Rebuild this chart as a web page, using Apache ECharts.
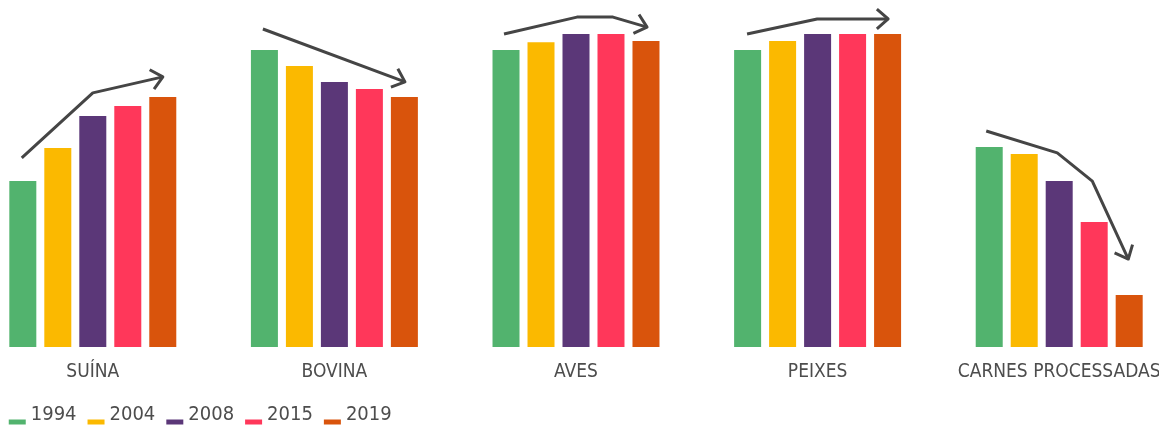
<!DOCTYPE html>
<html>
<head>
<meta charset="utf-8">
<script src="https://cdn.jsdelivr.net/npm/echarts@6/dist/echarts.min.js"></script>
<style>
html,body{margin:0;padding:0;background:#ffffff;overflow:hidden;width:1159px;height:429px;}
#chart{width:1207.5px;height:429px;margin-left:-27.75px;}
</style>
</head>
<body>
<div id="chart"></div>
<script>
// Categories and series
const categories = ['SUÍNA', 'BOVINA', 'AVES', 'PEIXES', 'CARNES PROCESSADAS'];
const years = ['1994', '2004', '2008', '2015', '2019'];
const colors = ['#52B36E', '#FBB900', '#5B3778', '#FF375A', '#D9540C'];

// Values per year (relative scale, max ≈ 100)
const v1994 = [53.0, 94.9, 94.9, 94.9, 63.9];
const v2004 = [63.6, 89.8, 97.4, 97.8, 61.7];
const v2008 = [73.8, 84.7, 100.0, 100.0, 53.0];
const v2015 = [77.0, 82.4, 100.0, 100.0, 39.9];
const v2019 = [79.9, 79.9, 97.8, 100.0, 16.6];
const seriesValues = [v1994, v2004, v2008, v2015, v2019];

// Trend arrows: points in [category position, value]
const arrowSuina = [[-0.294, 60.4], [0.0, 81.2], [0.290, 86.3]];
const arrowBovina = [[0.704, 101.6], [1.292, 84.7]];
const arrowAves = [[1.702, 100.0], [2.004, 105.4], [2.153, 105.4], [2.294, 102.2]];
const arrowPeixes = [[2.708, 100.0], [2.998, 104.8], [3.292, 104.8]];
const arrowCarnes = [[3.698, 69.0], [3.992, 62.0], [4.137, 53.0], [4.286, 28.1]];
const arrows = [arrowSuina, arrowBovina, arrowAves, arrowPeixes, arrowCarnes];

const textFont = '"Liberation Sans Narrow", "DejaVu Sans Condensed", "Roboto", sans-serif';

const chart = echarts.init(document.getElementById('chart'), null, {renderer: 'canvas'});

const barSeries = years.map((y, i) => ({
  name: y,
  type: 'bar',
  data: seriesValues[i],
  barWidth: 27,
  barGap: '29.6%',
  itemStyle: {color: colors[i]},
  emphasis: {disabled: true},
  xAxisIndex: 0,
  yAxisIndex: 0
}));

const arrowSeries = {
  type: 'custom',
  xAxisIndex: 1,
  yAxisIndex: 0,
  silent: true,
  z: 10,
  data: arrows.map(a => a[0]),
  renderItem: function (params, api) {
    const pts = arrows[params.dataIndex].map(p => api.coord(p));
    const n = pts.length;
    const tip = pts[n - 1];
    const prev = pts[n - 2];
    const ang = Math.atan2(tip[1] - prev[1], tip[0] - prev[0]);
    const L = 15, spread = 0.72;
    const w1 = [tip[0] - L * Math.cos(ang - spread), tip[1] - L * Math.sin(ang - spread)];
    const w2 = [tip[0] - L * Math.cos(ang + spread), tip[1] - L * Math.sin(ang + spread)];
    const style = {stroke: '#454545', lineWidth: 3, fill: null, lineJoin: 'round', lineCap: 'butt'};
    return {
      type: 'group',
      children: [
        {type: 'polyline', shape: {points: pts}, style: style},
        {type: 'polyline', shape: {points: [w1, tip, w2]}, style: style}
      ]
    };
  }
};

chart.setOption({
  animation: false,
  backgroundColor: '#ffffff',
  color: colors,
  legend: {
    left: 36.75,
    top: 405,
    padding: 0,
    itemWidth: 17,
    itemHeight: 19,
    itemGap: 11,
    icon: 'path://M0,0 M0,14 L17,14 L17,19 L0,19 Z',
    data: years,
    textStyle: {
      fontFamily: textFont,
      fontSize: 20,
      color: '#4d4d4d'
    }
  },
  grid: {left: 0, right: 0, top: 2.7, height: 344.3, containLabel: false},
  xAxis: [
    {
      type: 'category',
      data: categories,
      axisLine: {show: false},
      axisTick: {show: false},
      axisLabel: {
        interval: 0,
        margin: 16,
        fontFamily: textFont,
        fontSize: 19,
        color: '#4d4d4d'
      }
    },
    {type: 'value', min: -0.5, max: 4.5, show: false}
  ],
  yAxis: [{
    type: 'value',
    min: 0,
    max: 110,
    show: false,
    splitLine: {show: false}
  }],
  series: barSeries.concat([arrowSeries])
});
</script>
</body>
</html>
